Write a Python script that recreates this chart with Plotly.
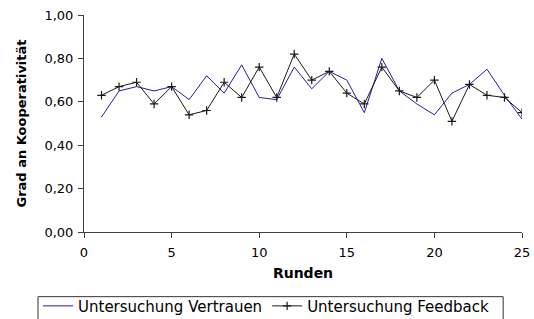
import plotly.graph_objects as go

runden = list(range(1, 26))
vertrauen = [0.53, 0.65, 0.67, 0.65, 0.67, 0.61, 0.72, 0.64, 0.77, 0.62,
             0.61, 0.76, 0.66, 0.74, 0.70, 0.55, 0.80, 0.65, 0.59, 0.54,
             0.64, 0.68, 0.75, 0.63, 0.52]
feedback = [0.63, 0.67, 0.69, 0.59, 0.67, 0.54, 0.56, 0.69, 0.62, 0.76,
            0.62, 0.82, 0.70, 0.74, 0.64, 0.59, 0.76, 0.65, 0.62, 0.70,
            0.51, 0.68, 0.63, 0.62, 0.55]
y_ticks = [0.0, 0.2, 0.4, 0.6, 0.8, 1.0]
x_ticks = [0, 5, 10, 15, 20, 25]

fig = go.Figure()
fig.add_trace(go.Scatter(x=runden, y=vertrauen, mode="lines",
                         name="Untersuchung Vertrauen",
                         line=dict(color="#2020a0", width=1)))
fig.add_trace(go.Scatter(x=runden, y=feedback, mode="lines+markers",
                         name="Untersuchung Feedback",
                         line=dict(color="#1a1a1a", width=1),
                         marker=dict(symbol="cross-thin", size=6,
                                     line=dict(color="#1a1a1a", width=1.2))))

font = "DejaVu Sans, Arial, sans-serif"
fig.update_layout(
    width=534, height=319,
    margin=dict(l=84, r=12, t=15, b=87, autoexpand=False),
    plot_bgcolor="white", paper_bgcolor="white",
    separators=",.",
    font=dict(family=font, size=13, color="black"),
    showlegend=True,
    legend=dict(orientation="h", x=-0.105, xanchor="left", y=-0.2655, yanchor="top",
                bgcolor="rgba(0,0,0,0)", borderwidth=0, font=dict(size=15),
                itemwidth=30, tracegroupgap=0),
    shapes=[dict(type="rect", xref="paper", yref="paper",
                 x0=-0.105, x1=0.957, y0=-0.298, y1=-0.45,
                 line=dict(color="#333333", width=1), fillcolor="rgba(0,0,0,0)",
                 layer="below")],
)
fig.update_xaxes(range=[0, 25], tickvals=x_ticks, showgrid=False, zeroline=False,
                 showline=True, linecolor="#404040", linewidth=1,
                 ticks="outside", ticklen=5, tickcolor="#404040",
                 ticklabelstandoff=3, automargin=False,
                 title=dict(text="<b>Runden</b>", font=dict(size=14), standoff=9))
fig.update_yaxes(range=[0, 1.0], tickvals=y_ticks, tickformat=".2f",
                 showgrid=False, zeroline=False,
                 showline=True, linecolor="#404040", linewidth=1,
                 ticks="outside", ticklen=5, tickcolor="#404040",
                 ticklabelstandoff=2, automargin=False,
                 title=dict(text="<b>Grad an Kooperativität</b>", font=dict(size=13), standoff=14))

fig.write_html("out.html", config={"displayModeBar": False},
               post_script="document.body.style.margin='0';document.body.style.overflow='hidden';")
